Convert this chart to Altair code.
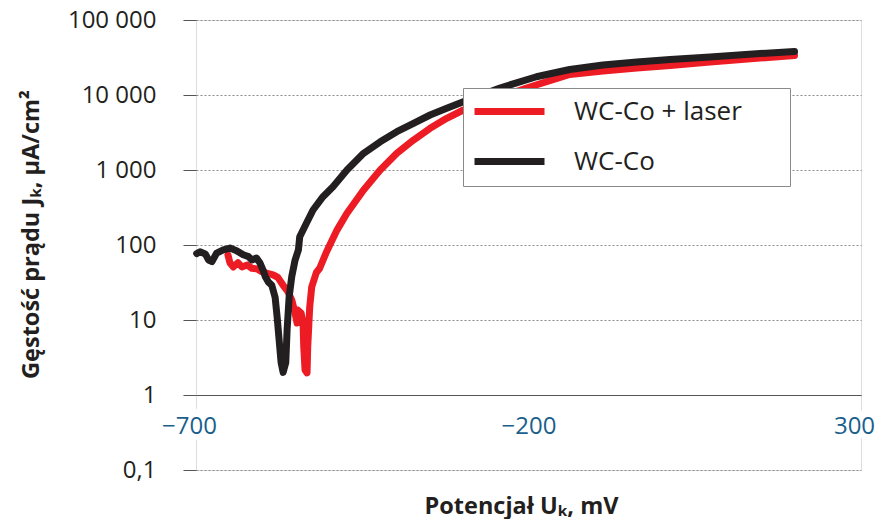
import json
import altair as alt
import pandas as pd

# ---------------- data ----------------
series_names = ["WC-Co + laser", "WC-Co"]
series_colors = ["#ED1C24", "#231F20"]

laser_mv = [-652, -649, -644, -637, -631, -623, -616, -608, -601, -593, -584, -577,
            -569, -562, -556, -551, -548, -547, -542, -539, -538, -536, -533, -532,
            -529, -526, -519, -514, -504, -488, -473, -448, -423, -398, -373, -348,
            -323, -298, -203, -138, -88, -37, 13, 73, 148, 200]
laser_j = [74, 58, 51, 58, 51, 54, 49, 48, 44, 42, 40, 37,
           29, 24, 18.5, 12.4, 9.1, 13.6, 12.4, 9.1, 4.4, 2.15, 1.97, 4.4,
           14.9, 27.5, 43, 49, 80, 158, 265, 541, 1000, 1670, 2510, 3590,
           4890, 6310, 12400, 18800, 20900, 22900, 24700, 27500, 31100, 33600]

base_mv = [-699, -694, -686, -681, -676, -669, -659, -649, -639, -629, -621, -616,
           -609, -604, -599, -596, -591, -586, -581, -578, -575, -572, -569, -565,
           -563, -560, -556, -551, -546, -544, -534, -524, -509, -494, -473, -448,
           -423, -398, -373, -348, -323, -298, -243, -188, -138, -88, -37, 13, 73,
           148, 200]
base_j = [77, 81, 76, 63, 60, 78, 86, 91, 84, 74, 70, 63,
          67, 58, 46, 38, 32, 29, 20, 11, 5.4, 2.7, 2.0, 2.7,
          7.4, 20, 38, 63, 86, 129, 195, 293, 441, 599, 1000, 1670,
          2380, 3240, 4200, 5410, 6650, 8150, 12400, 17500, 21900, 25100, 27500, 29700, 32100,
          35700, 38000]

y_tick_values = [0.1, 1, 10, 100, 1000, 10000, 100000]
y_tick_labels = ["0,1", "1", "10", "100", "1\u00a0000", "10\u00a0000", "100\u00a0000"]
x_tick_values = [-700, -200, 300]
x_tick_labels = ["\u2212700", "\u2212200", "300"]

x_title = "Potencjał Uₖ, mV"
y_title = "Gęstość prądu Jₖ, μA/cm²"

# ---------------- tables ----------------
rows = []
for name, mv, j in [(series_names[0], laser_mv, laser_j), (series_names[1], base_mv, base_j)]:
    for i, (a, b) in enumerate(zip(mv, j)):
        rows.append({"series": name, "order": i, "U": a, "J": b})
df = pd.DataFrame(rows)

halo_df = pd.DataFrame({"U": [x_tick_values[0], x_tick_values[-1]],
                        "label": [x_tick_labels[0], x_tick_labels[-1]]})

y_expr = f"{json.dumps(y_tick_labels, ensure_ascii=False)}[indexof({json.dumps(y_tick_values)}, datum.value)]"
x_expr = f"{json.dumps(x_tick_labels, ensure_ascii=False)}[indexof({json.dumps(x_tick_values)}, datum.value)]"
edge_test = f"datum.value == {x_tick_values[0]} || datum.value == {x_tick_values[-1]}"

FONT = "Open Sans"
DARK = "#231F20"

lines = alt.Chart(df).mark_line(strokeWidth=7, strokeCap="round", strokeJoin="round").encode(
    x=alt.X("U:Q",
            scale=alt.Scale(domain=[-700, 300], nice=False, zero=False),
            axis=alt.Axis(values=x_tick_values, labelExpr=x_expr, title=x_title,
                          offset=-75, grid=False, ticks=False,
                          domainColor="#555555", domainWidth=1,
                          labelColor="#1a5f8c", labelFontSize=24, labelFont=FONT,
                          labelPadding=19, labelFlush=False,
                          labelOffset={"condition": {"test": edge_test, "value": -7}, "value": 0},
                          titleFont=FONT, titleFontSize=23.5, titleFontWeight="bold",
                          titleColor=DARK, titleX=325, titleY=118,
                          titleBaseline="alphabetic", zindex=1)),
    y=alt.Y("J:Q",
            scale=alt.Scale(type="log", domain=[0.1, 100000], nice=False),
            axis=alt.Axis(values=y_tick_values, labelExpr=y_expr, title=y_title,
                          domain=False, ticks=True, tickColor="#555555", tickSize=13,
                          tickWidth=1, grid=True, gridColor="#8c8c8c", gridDash=[2, 2],
                          gridWidth=1, labelPadding=27, labelFontSize=24, labelFont=FONT,
                          labelColor=DARK, labelFlush=False,
                          titleFont=FONT, titleFontSize=23.5, titleFontWeight="bold",
                          titleColor=DARK, titleAngle=270, titleX=-165, titleY=214,
                          titleBaseline="middle", titleAlign="center", zindex=0)),
    color=alt.Color("series:N",
                    scale=alt.Scale(domain=series_names, range=series_colors),
                    title=None,
                    legend=alt.Legend(orient="none", legendX=267, legendY=68,
                                      fillColor="white", strokeColor="#8a8a8a",
                                      padding=10, symbolType="M-3.5,0H3.5", symbolSize=400,
                                      symbolStrokeWidth=7, symbolOffset=23,
                                      labelOffset=51, labelFontSize=26, labelFont=FONT,
                                      labelColor=DARK, rowPadding=21, labelLimit=500,
                                      labelExpr="datum.label + '\u2800\u2800'")),
    order="order:Q",
)

halo = alt.Chart(halo_df).mark_text(fontSize=24, font=FONT, color="white", stroke="white",
                                    strokeWidth=14, baseline="middle", dx=-7).encode(
    x=alt.X("U:Q"),
    y=alt.value(406),
    text="label:N",
)

chart = alt.layer(lines, halo).properties(
    width=665, height=450,
    autosize=alt.AutoSizeParams(type="none"),
    padding={"left": 188, "top": 12, "right": 14, "bottom": 49},
).configure_view(stroke="#9a9a9a", strokeWidth=3).configure(font=FONT)

chart.save("out.html", embed_options={"renderer": "svg", "actions": False})
